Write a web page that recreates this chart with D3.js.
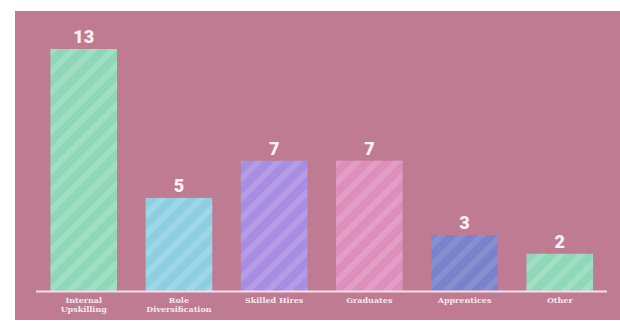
<!DOCTYPE html>
<html><head><meta charset="utf-8">
<script src="https://cdn.jsdelivr.net/npm/d3@7"></script>
<style>html,body{margin:0;padding:0;background:#fff;}svg{display:block;}</style>
</head><body>
<svg id="c" width="620" height="321"></svg>
<script>
const categories = [["Internal","Upskilling"],["Role","Diversification"],["Skilled Hires"],["Graduates"],["Apprentices"],["Other"]];
const values = [13, 5, 7, 7, 3, 2];
const barColors = ["#8fd7b8","#8dcfe1","#a98de2","#de8ebd","#7a82cb","#8fd7b8"];
const stripeColors = ["#a0dfc4","#9ed7e8","#b59ce7","#e49ec6","#8690d1","#a0dfc4"];

const svg = d3.select("#c");
svg.append("rect").attr("x",15).attr("y",11).attr("width",605).attr("height",309).attr("fill","#bf7b92");

const defs = svg.append("defs");
barColors.forEach((c,i)=>{
  const p = defs.append("pattern").attr("id","p"+i).attr("patternUnits","userSpaceOnUse")
    .attr("width",14).attr("height",14).attr("patternTransform","rotate(45)");
  p.append("rect").attr("width",14).attr("height",14).attr("fill",c);
  p.append("rect").attr("width",6).attr("height",14).attr("fill",stripeColors[i]);
});

const x = d3.scaleBand().domain(d3.range(values.length)).range([36.5,607]).paddingInner(0.3).paddingOuter(0.146);
const y = d3.scaleLinear().domain([0,13]).range([291,49]);

svg.selectAll("rect.bar").data(values).join("rect").attr("class","bar")
  .attr("x",(d,i)=>x(i)).attr("y",d=>y(d)).attr("width",x.bandwidth()).attr("height",d=>y(0)-y(d))
  .attr("fill",(d,i)=>`url(#p${i})`);

svg.append("line").attr("x1",36).attr("x2",607).attr("y1",291.5).attr("y2",291.5)
  .attr("stroke","#f6dfe7").attr("stroke-width",2);

svg.selectAll("text.val").data(values).join("text").attr("class","val")
  .attr("x",(d,i)=>x(i)+x.bandwidth()/2).attr("y",d=>y(d)-6)
  .attr("text-anchor","middle").attr("fill","#fbf1f4")
  .style("font-family","Roboto, sans-serif").style("font-weight","900").style("font-size","18px")
  .text(d=>d);

const lab = svg.selectAll("text.cat").data(categories).join("text").attr("class","cat")
  .attr("x",(d,i)=>x(i)+x.bandwidth()/2).attr("y",303)
  .attr("text-anchor","middle").attr("fill","#f5e8ed")
  .style("font-family","'DejaVu Serif', serif").style("font-weight","bold").style("font-size","8px");
lab.each(function(d){
  const t = d3.select(this);
  d.forEach((s,j)=>t.append("tspan").attr("x",t.attr("x")).attr("dy",j?9:0).text(s));
});
</script>
</body></html>
